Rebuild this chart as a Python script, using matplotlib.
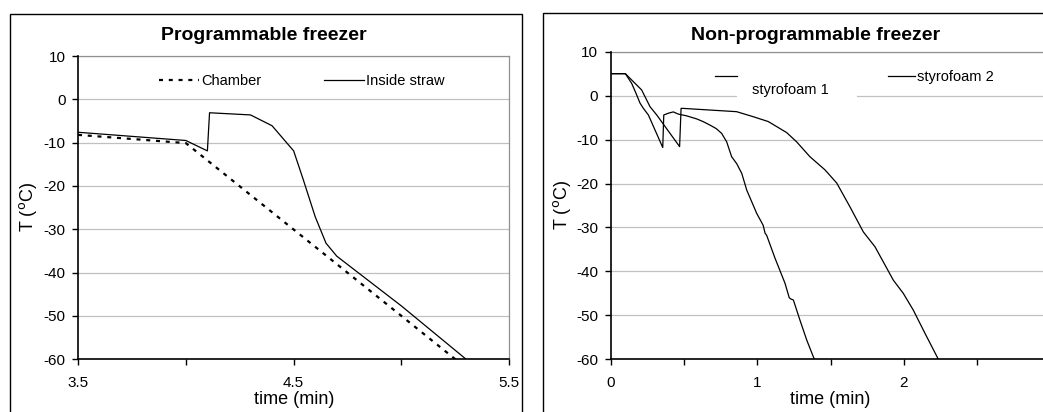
import matplotlib
matplotlib.use("Agg")
import matplotlib.pyplot as plt
from matplotlib.patches import Rectangle

plt.rcParams["font.family"] = ["Liberation Sans", "DejaVu Sans"]
plt.rcParams["axes.unicode_minus"] = False

W, H = 1043, 412

# ── data ─────────────────────────────────────
CHAMBER_T = [3.5, 4.0, 5.0, 5.25]
CHAMBER_Y = [-8.2, -10.1, -50.0, -60.0]

STRAW_T = [3.5, 4.0, 4.10, 4.11, 4.30, 4.40, 4.50, 4.545, 4.60, 4.65, 4.70, 5.00, 5.30]
STRAW_Y = [-7.6, -9.5, -11.9, -3.1, -3.6, -6.1, -11.9, -18.6, -27.1, -33.2, -36.2, -47.7, -60.0]

STYRO1_T = [0, 0.10, 0.143, 0.173, 0.200, 0.223, 0.257, 0.355, 0.362, 0.393, 0.427,
            0.461, 0.518, 0.587, 0.630, 0.677, 0.720, 0.757, 0.791, 0.825, 0.860,
            0.894, 0.928, 0.996, 1.040, 1.053, 1.064, 1.121, 1.189, 1.218, 1.230,
            1.246, 1.291, 1.337, 1.389]
STYRO1_Y = [5, 5, 2.8, 0.5, -1.7, -2.9, -4.4, -11.8, -4.4, -4.0, -3.7,
            -4.2, -4.6, -5.3, -5.9, -6.7, -7.5, -8.6, -10.5, -13.9, -15.5,
            -17.7, -21.5, -26.8, -29.5, -31.3, -31.8, -37.0, -42.7, -46.0, -46.3,
            -46.5, -51.1, -55.6, -60.0]

STYRO2_T = [0, 0.10, 0.154, 0.211, 0.268, 0.314, 0.470, 0.480, 0.495, 0.859, 0.973,
            1.075, 1.200, 1.268, 1.359, 1.462, 1.542, 1.632, 1.723, 1.803, 1.928,
            1.996, 2.064, 2.144, 2.235]
STYRO2_Y = [5, 5, 3.2, 1.3, -2.5, -4.4, -11.6, -2.9, -2.9, -3.65, -4.8,
            -5.9, -8.4, -10.5, -13.9, -16.9, -19.9, -25.3, -31.0, -34.4, -42.0,
            -45.0, -48.8, -54.1, -60.0]

Y_TICKS = [-60, -50, -40, -30, -20, -10, 0, 10]
LEFT_XTICKS = [3.5, 4.0, 4.5, 5.0, 5.5]
LEFT_XLABELS = ["3.5", "", "4.5", "", "5.5"]
RIGHT_XTICKS = [0, 0.5, 1, 1.5, 2, 2.5, 3]
RIGHT_XLABELS = ["0", "", "1", "", "2", "", ""]

GRID = "#c0c0c0"


def fx(x):
    return x / W


def fy(y):
    return 1 - y / H


def axes_px(x0, y0, x1, y1):
    return [fx(x0), fy(y1), (x1 - x0) / W, (y1 - y0) / H]


def style_axes(ax, xticks, xlabels, xlim):
    ax.set_xlim(*xlim)
    ax.set_ylim(-60, 10)
    ax.set_yticks(Y_TICKS)
    ax.set_xticks(xticks)
    ax.set_xticklabels(xlabels)
    ax.yaxis.grid(True, color=GRID, linewidth=0.9)
    ax.set_axisbelow(True)
    for s in ("left", "bottom"):
        ax.spines[s].set_linewidth(1.2)
        ax.spines[s].set_color("black")
        ax.spines[s].set_zorder(5)
    for s in ("top", "right"):
        ax.spines[s].set_linewidth(0.9)
        ax.spines[s].set_color("#909090")
    ax.tick_params(direction="out", length=4, width=1, labelsize=11)
    ax.tick_params(axis="x", pad=8)
    ax.tick_params(axis="y", pad=5)


fig = plt.figure(figsize=(W / 100, H / 100), dpi=100)

# chart frames
fig.patches.append(Rectangle((fx(10), fy(430)), (521.7 - 10) / W, (430 - 13.5) / H,
                             transform=fig.transFigure, fill=False, lw=1.0, ec="black"))
fig.patches.append(Rectangle((fx(542.7), fy(430)), (1100 - 542.7) / W, (430 - 12.7) / H,
                             transform=fig.transFigure, fill=False, lw=1.0, ec="black"))

# ── left: programmable freezer ─────────────────
ax1 = fig.add_axes(axes_px(78, 56, 509.3, 359.3))
style_axes(ax1, LEFT_XTICKS, LEFT_XLABELS, (3.5, 5.5))
l_ch, = ax1.plot(CHAMBER_T, CHAMBER_Y, color="black", lw=1.6,
                 linestyle=(0, (1.8, 2.6)), dash_capstyle="butt")
l_st, = ax1.plot(STRAW_T, STRAW_Y, color="black", lw=0.9)

fig.legend([l_ch, l_st], ["Chamber", "Inside straw"], loc="center left",
           bbox_to_anchor=(fx(159), fy(81)), bbox_transform=fig.transFigure,
           ncol=2, frameon=False, fontsize=10.5, borderpad=0, borderaxespad=0,
           handlelength=2.75, handletextpad=0.15, columnspacing=4.3)

fig.text(fx(264), fy(35), "Programmable freezer", ha="center", va="center",
         fontsize=14, fontweight="bold")
fig.text(fx(294), fy(400), "time (min)", ha="center", va="center", fontsize=13)
fig.text(fx(28), fy(207), r"T ($^{\rm o}$C)", ha="center", va="center",
         rotation=90, fontsize=13)

# ── right: non-programmable freezer ─────────────
ax2 = fig.add_axes(axes_px(610.7, 51.7, 1050.5, 359.3))
style_axes(ax2, RIGHT_XTICKS, RIGHT_XLABELS, (0, 3))
l_s1, = ax2.plot(STYRO1_T, STYRO1_Y, color="black", lw=0.9)
l_s2, = ax2.plot(STYRO2_T, STYRO2_Y, color="black", lw=0.9)

# clipped legend box of the original (covers part of the 0 gridline)
fig.patches.append(Rectangle((fx(737), fy(101)), (857 - 737) / W, (101 - 84) / H,
                             transform=fig.transFigure, fc="white", ec="none", zorder=3))
fig.legend([l_s1], [""], loc="center left",
           bbox_to_anchor=(fx(715), fy(77)), bbox_transform=fig.transFigure,
           frameon=False, fontsize=10.5, borderpad=0, borderaxespad=0,
           handlelength=1.5, handletextpad=0)
fig.text(fx(790.5), fy(90), "styrofoam 1", ha="center", va="center", fontsize=10.5,
         zorder=4)
fig.legend([l_s2], ["styrofoam 2"], loc="center left",
           bbox_to_anchor=(fx(888), fy(77)), bbox_transform=fig.transFigure,
           frameon=False, fontsize=10.5, borderpad=0, borderaxespad=0,
           handlelength=1.85, handletextpad=0.15)

fig.text(fx(816), fy(35), "Non-programmable freezer", ha="center", va="center",
         fontsize=14, fontweight="bold")
fig.text(fx(830), fy(400), "time (min)", ha="center", va="center", fontsize=13)
fig.text(fx(561.7), fy(205), r"T ($^{\rm o}$C)", ha="center", va="center",
         rotation=90, fontsize=13)

fig.savefig("out.png", dpi=100, facecolor="white")
